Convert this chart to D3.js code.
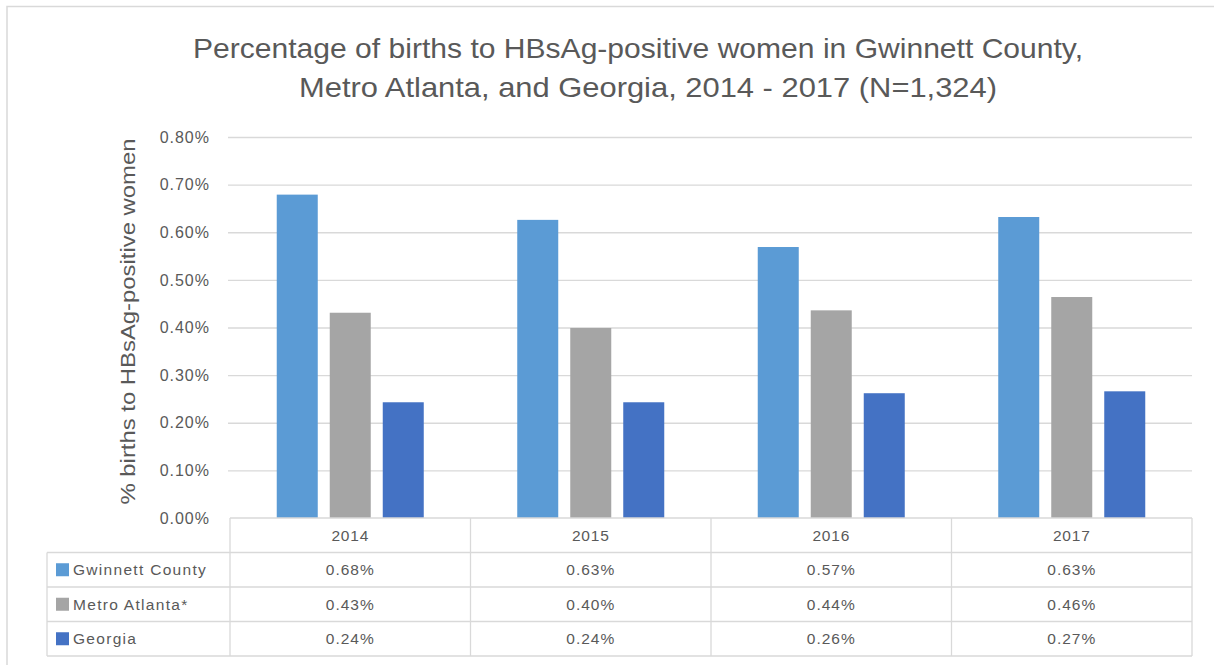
<!DOCTYPE html>
<html>
<head>
<meta charset="utf-8">
<script src="https://cdn.jsdelivr.net/npm/d3@7"></script>
<style>
  html, body { margin: 0; padding: 0; background: #fff; }
  svg { display: block; }
  text { fill: #595959; font-family: "Liberation Sans", "Open Sans", sans-serif; }
</style>
</head>
<body>
<svg id="chart" width="1214" height="665"></svg>
<script>
// ---- data ----
const titleLines = [
  "Percentage of births to HBsAg-positive women in Gwinnett County,",
  "Metro Atlanta, and Georgia, 2014 - 2017 (N=1,324)"
];
const yAxisTitle = "% births to HBsAg-positive women";
const years = ["2014", "2015", "2016", "2017"];
const seriesNames = ["Gwinnett County", "Metro Atlanta*", "Georgia"];
const gwinnett = [0.679, 0.626, 0.569, 0.632];
const metroAtlanta = [0.431, 0.399, 0.436, 0.464];
const georgia = [0.243, 0.243, 0.262, 0.266];
const tableGwinnett = ["0.68%", "0.63%", "0.57%", "0.63%"];
const tableMetro = ["0.43%", "0.40%", "0.44%", "0.46%"];
const tableGeorgia = ["0.24%", "0.24%", "0.26%", "0.27%"];
const yTicks = [0, 0.1, 0.2, 0.3, 0.4, 0.5, 0.6, 0.7, 0.8];
const colors = ["#5b9bd5", "#a5a5a5", "#4472c4"];

const seriesValues = [gwinnett, metroAtlanta, georgia];
const tableValues = [tableGwinnett, tableMetro, tableGeorgia];

// ---- layout ----
const svg = d3.select("#chart");
const plotLeft = 230, plotRight = 1192, plotTop = 137, plotBottom = 518;
const legendLeft = 47;
const rowH = 34.5;
const gridColor = "#d9d9d9";

// outer frame
svg.append("rect")
  .attr("x", 7).attr("y", 6.5).attr("width", 1220).attr("height", 680)
  .attr("fill", "none").attr("stroke", gridColor).attr("stroke-width", 1.5);

// title
svg.append("g").selectAll("text").data(titleLines).join("text")
  .attr("x", (d, i) => i === 0 ? 638 : 648)
  .attr("y", (d, i) => 58 + i * 39)
  .attr("text-anchor", "middle")
  .attr("font-family", "\"Liberation Sans Narrow\", \"Liberation Sans\", sans-serif")
  .attr("font-size", 28)
  .attr("textLength", (d, i) => i === 0 ? 890 : 698)
  .attr("lengthAdjust", "spacingAndGlyphs")
  .text(d => d);

// scales
const y = d3.scaleLinear().domain([0, 0.8]).range([plotBottom, plotTop]);
const x0 = d3.scaleBand().domain(years).range([plotLeft, plotRight]).padding(0);
const x1 = d3.scaleBand().domain(seriesNames).range([0, x0.bandwidth()])
  .paddingInner(0.2264).paddingOuter(0.882);

// gridlines
svg.append("g")
  .attr("transform", `translate(${plotLeft - 2},0)`)
  .call(d3.axisLeft(y).tickValues(yTicks.slice(1)).tickSize(-(plotRight - plotLeft + 2)).tickFormat(""))
  .call(g => g.select(".domain").remove())
  .call(g => g.selectAll("line").attr("stroke", gridColor).attr("stroke-width", 1.3));

// y tick labels
svg.append("g")
  .attr("transform", `translate(210,0)`)
  .call(d3.axisLeft(y).tickValues(yTicks).tickSize(0).tickPadding(0).tickFormat(d => d3.format(".2f")(d) + "%"))
  .call(g => g.select(".domain").remove())
  .call(g => g.selectAll("text")
    .attr("font-size", 16)
    .attr("letter-spacing", 1)
    .attr("fill", "#595959")
    .attr("font-family", "\"Liberation Sans\", sans-serif"));

// y axis title
svg.append("text")
  .attr("transform", `translate(135,${(plotTop + plotBottom) / 2 - 6}) rotate(-90)`)
  .attr("text-anchor", "middle")
  .attr("font-size", 20)
  .attr("font-family", "\"Liberation Sans Narrow\", \"Liberation Sans\", sans-serif")
  .attr("textLength", 366)
  .attr("lengthAdjust", "spacingAndGlyphs")
  .text(yAxisTitle);

// bars
const groups = svg.append("g").selectAll("g").data(years).join("g")
  .attr("transform", d => `translate(${x0(d)},0)`);
groups.selectAll("rect")
  .data((d, i) => seriesNames.map((s, j) => ({ s, j, v: seriesValues[j][i] })))
  .join("rect")
  .attr("x", d => x1(d.s))
  .attr("width", x1.bandwidth())
  .attr("y", d => y(d.v))
  .attr("height", d => plotBottom - y(d.v))
  .attr("fill", d => colors[d.j]);

// data table
const tbl = svg.append("g").attr("stroke", gridColor).attr("stroke-width", 1.3);
tbl.append("line").attr("x1", plotLeft).attr("x2", plotRight).attr("y1", plotBottom).attr("y2", plotBottom);
for (let r = 1; r <= 4; r++) {
  tbl.append("line").attr("x1", legendLeft).attr("x2", plotRight)
    .attr("y1", plotBottom + r * rowH).attr("y2", plotBottom + r * rowH);
}
tbl.append("line").attr("x1", legendLeft).attr("x2", legendLeft)
  .attr("y1", plotBottom + rowH).attr("y2", plotBottom + 4 * rowH);
years.forEach(yr => {
  tbl.append("line").attr("x1", x0(yr)).attr("x2", x0(yr))
    .attr("y1", plotBottom).attr("y2", plotBottom + 4 * rowH);
});
tbl.append("line").attr("x1", plotRight).attr("x2", plotRight)
  .attr("y1", plotBottom).attr("y2", plotBottom + 4 * rowH);

// year headers
svg.append("g").selectAll("text").data(years).join("text")
  .attr("x", d => x0(d) + x0.bandwidth() / 2)
  .attr("y", plotBottom + rowH / 2 + 5.5)
  .attr("text-anchor", "middle")
  .attr("font-size", 15.5)
  .attr("letter-spacing", 0.8)
  .text(d => d);

// legend rows
seriesNames.forEach((s, j) => {
  const cy = plotBottom + (j + 1.5) * rowH;
  svg.append("rect").attr("x", 56).attr("y", cy - 6.5).attr("width", 13).attr("height", 13)
    .attr("fill", colors[j]);
  svg.append("text").attr("x", 73).attr("y", cy + 5.5)
    .attr("font-size", 15.5).attr("letter-spacing", 1.3).text(s);
  svg.append("g").selectAll("text").data(years).join("text")
    .attr("x", d => x0(d) + x0.bandwidth() / 2)
    .attr("y", cy + 5.5)
    .attr("text-anchor", "middle")
    .attr("font-size", 15.5)
    .attr("letter-spacing", 1)
    .text((d, i) => tableValues[j][i]);
});
</script>
</body>
</html>
